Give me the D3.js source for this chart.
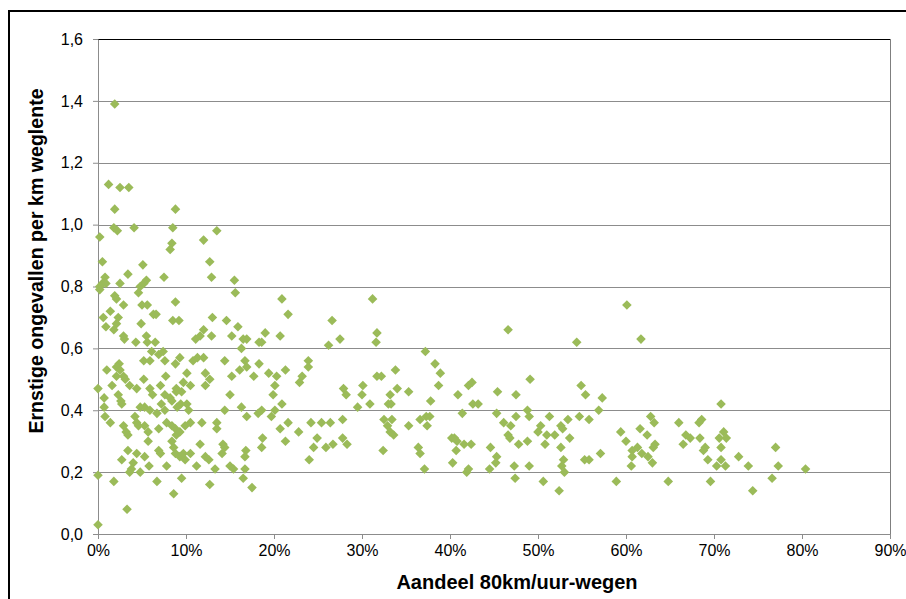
<!DOCTYPE html>
<html>
<head>
<meta charset="utf-8">
<script src="https://cdn.jsdelivr.net/npm/d3@7"></script>
<style>
  body { margin: 0; background: #fff; }
  text { font-family: Arial, "Liberation Sans", sans-serif; }
</style>
</head>
<body>
<div id="chart"></div>
<script>
// Data: share of 80 km/h roads (%) and serious accidents per km
var aandeel = [
  1.9,1.2,2.5,3.5,1.9,8.8,1.8,2.2,4.1,8.5,
  0.2,8.4,8.2,12.0,0.5,5.1,3.4,0.8,7.5,5.5,
  0.5,0.9,0.2,2.5,4.8,5.2,12.7,12.9,15.5,13.5,
  15.6,0.2,1.9,2.1,4.6,2.9,5.0,5.6,8.8,0.6,
  1.4,2.3,2.1,6.3,6.6,4.9,8.5,9.2,0.9,1.8,
  12.0,11.6,11.1,2.9,3.0,4.3,5.5,5.6,6.5,6.1,
  5.2,5.9,6.9,7.4,7.6,9.3,8.8,10.8,11.3,12.0,
  2.4,2.1,2.5,1.0,2.1,2.9,1.6,3.1,3.6,4.4,
  5.2,7.7,10.1,9.7,10.5,5.9,7.1,8.9,9.5,0.0,
  0.7,2.3,2.6,2.7,6.2,7.6,8.2,8.9,8.4,9.4,
  10.1,7.2,0.7,4.8,5.3,5.9,6.7,7.6,9.0,10.3,
  0.8,4.2,1.4,2.9,3.2,3.4,5.3,7.8,8.4,4.4,
  4.6,5.7,6.9,8.8,8.9,9.3,9.9,10.5,11.8,11.6,
  5.7,8.4,8.6,3.4,4.4,5.3,6.9,7.1,2.7,4.0,
  3.8,3.6,4.8,5.8,7.8,8.8,9.3,9.9,9.7,10.5,
  11.2,12.2,0.0,1.8,6.7,9.5,8.6,12.7,3.3,0.0,
  20.9,21.6,26.6,27.5,26.2,23.9,23.9,23.2,22.9,27.9,
  28.2,20.7,19.0,18.6,18.3,16.9,16.5,16.3,15.9,14.6,
  15.2,12.9,13.0,16.7,18.3,16.9,16.1,14.4,15.2,17.7,
  19.4,20.3,21.3,20.1,19.9,20.9,20.1,19.7,18.6,18.2,
  16.3,16.9,14.4,15.0,12.2,12.7,12.2,20.7,21.6,22.8,
  24.2,25.4,26.4,27.8,24.9,24.5,25.9,26.7,27.8,28.3,
  24.0,21.3,18.7,18.6,16.8,16.7,16.7,16.5,17.5,15.0,
  15.4,14.1,14.2,14.4,13.5,13.5,12.6,13.3,
  31.2,31.7,31.6,37.2,38.3,38.9,38.7,33.8,32.2,31.7,
  30.1,30.0,30.9,34.0,35.3,33.2,33.0,33.3,29.5,37.8,
  40.9,42.5,42.1,42.6,43.2,45.4,41.4,32.5,33.4,32.9,
  33.2,33.6,35.3,36.6,37.3,37.7,37.4,32.4,36.4,36.6,
  37.1,40.2,40.5,40.8,41.6,42.4,40.7,40.3,41.9,42.1,
  44.6,45.3,45.2,44.5,45.3,46.1,46.6,46.6,60.1,61.7,
  54.4,49.1,47.5,54.9,55.4,57.3,56.9,54.7,55.8,53.4,
  51.3,48.8,49.0,47.5,46.9,46.8,47.8,48.8,50.0,50.3,
  51.0,51.9,52.6,52.8,53.6,50.8,52.6,47.3,49.0,47.4,
  50.6,52.4,52.9,52.7,53.0,55.3,55.8,57.1,58.9,59.4,
  60.0,61.6,62.4,62.8,63.2,63.3,63.1,61.3,60.7,60.7,
  61.8,62.5,63.0,60.6,64.8,70.8,66.0,68.6,68.3,66.8,
  67.3,66.5,68.4,71.1,71.4,70.6,70.8,69.0,68.8,69.3,
  70.3,70.8,71.3,72.8,73.9,77.0,77.3,80.4,76.6,74.4,69.6
];
var ongevallen = [
  1.39,1.13,1.12,1.12,1.05,1.05,0.99,0.98,0.99,0.99,
  0.96,0.94,0.92,0.95,0.88,0.87,0.84,0.83,0.83,0.82,
  0.81,0.81,0.80,0.81,0.80,0.81,0.88,0.83,0.82,0.98,
  0.78,0.79,0.77,0.76,0.78,0.74,0.74,0.74,0.75,0.70,
  0.72,0.70,0.68,0.71,0.71,0.68,0.69,0.69,0.67,0.66,
  0.66,0.64,0.63,0.64,0.63,0.62,0.64,0.62,0.62,0.59,
  0.56,0.56,0.58,0.59,0.56,0.57,0.55,0.56,0.57,0.57,
  0.55,0.54,0.53,0.53,0.51,0.51,0.48,0.50,0.48,0.47,
  0.50,0.51,0.52,0.49,0.48,0.47,0.48,0.47,0.46,0.47,
  0.44,0.45,0.43,0.42,0.45,0.45,0.44,0.46,0.43,0.42,
  0.42,0.42,0.41,0.41,0.41,0.40,0.39,0.40,0.41,0.40,
  0.38,0.38,0.36,0.35,0.33,0.32,0.35,0.36,0.35,0.36,
  0.35,0.33,0.34,0.34,0.32,0.33,0.35,0.36,0.36,0.29,
  0.30,0.30,0.28,0.27,0.26,0.25,0.27,0.26,0.24,0.23,
  0.21,0.20,0.20,0.22,0.22,0.26,0.25,0.24,0.26,0.26,
  0.22,0.25,0.19,0.17,0.17,0.18,0.13,0.16,0.08,0.03,
  0.76,0.71,0.69,0.63,0.61,0.56,0.54,0.51,0.49,0.47,
  0.45,0.64,0.65,0.62,0.62,0.63,0.63,0.60,0.67,0.69,
  0.64,0.64,0.70,0.56,0.55,0.54,0.53,0.56,0.51,0.51,
  0.52,0.51,0.53,0.48,0.45,0.42,0.40,0.38,0.40,0.39,
  0.41,0.38,0.40,0.45,0.52,0.50,0.48,0.34,0.36,0.33,
  0.36,0.36,0.36,0.37,0.31,0.28,0.28,0.29,0.31,0.29,
  0.24,0.30,0.31,0.28,0.27,0.25,0.21,0.18,0.15,0.22,
  0.21,0.26,0.29,0.28,0.36,0.34,0.24,0.21,
  0.76,0.65,0.62,0.59,0.55,0.52,0.48,0.53,0.51,0.51,
  0.48,0.45,0.42,0.47,0.46,0.45,0.42,0.42,0.41,0.43,
  0.45,0.49,0.48,0.42,0.42,0.46,0.39,0.37,0.37,0.35,
  0.33,0.32,0.35,0.37,0.38,0.38,0.35,0.27,0.28,0.26,
  0.21,0.31,0.31,0.30,0.29,0.29,0.27,0.23,0.20,0.21,
  0.28,0.25,0.23,0.21,0.39,0.36,0.32,0.66,0.74,0.63,
  0.62,0.50,0.45,0.48,0.45,0.44,0.40,0.38,0.37,0.37,
  0.38,0.40,0.38,0.38,0.35,0.31,0.29,0.30,0.33,0.35,
  0.32,0.32,0.35,0.34,0.31,0.29,0.28,0.22,0.22,0.18,
  0.17,0.14,0.24,0.22,0.20,0.24,0.24,0.26,0.17,0.33,
  0.30,0.34,0.32,0.38,0.36,0.29,0.28,0.28,0.27,0.25,
  0.26,0.25,0.23,0.22,0.17,0.42,0.36,0.37,0.36,0.32,
  0.31,0.29,0.31,0.33,0.31,0.31,0.28,0.28,0.27,0.24,
  0.22,0.24,0.22,0.25,0.22,0.28,0.22,0.21,0.18,0.14,0.17
];
var xTicks = [0, 10, 20, 30, 40, 50, 60, 70, 80, 90];
var yTicks = [0, 0.2, 0.4, 0.6, 0.8, 1.0, 1.2, 1.4, 1.6];
var xTitle = "Aandeel 80km/uur-wegen";
var yTitle = "Ernstige ongevallen per km weglente";

var svgWidth = 906;
var svgHeight = 599;
var margin = { top: 39, right: 16, bottom: 65, left: 98 };
var width = svgWidth - margin.left - margin.right;
var height = svgHeight - margin.top - margin.bottom;

var svg = d3.select("#chart")
  .append("svg")
  .attr("width", svgWidth)
  .attr("height", svgHeight);

svg.append("rect")
  .attr("width", svgWidth).attr("height", svgHeight)
  .attr("fill", "#fff");

// outer chart frame (runs off the right/bottom of the picture)
svg.append("rect")
  .attr("x", 9).attr("y", 11)
  .attr("width", 1000).attr("height", 1000)
  .attr("fill", "none")
  .attr("stroke", "#000")
  .attr("stroke-width", 2);

var chartGroup = svg.append("g")
  .attr("transform", `translate(${margin.left}, ${margin.top})`);

var xScale = d3.scaleLinear().domain([0, 90]).range([0, width]);
var yScale = d3.scaleLinear().domain([0, 1.6]).range([height, 0]);

var gridColor = "#8c8c8c";

// gridlines
chartGroup.append("g")
  .selectAll("line")
  .data(yTicks.filter(d => d > 0 && d < 1.6))
  .enter().append("line")
  .attr("x1", 0).attr("x2", width)
  .attr("y1", d => Math.round(yScale(d)) + 0.5)
  .attr("y2", d => Math.round(yScale(d)) + 0.5)
  .attr("stroke", gridColor);

// plot area top + right border
chartGroup.append("line")
  .attr("x1", 0).attr("x2", width)
  .attr("y1", 0.5).attr("y2", 0.5)
  .attr("stroke", "#000");
chartGroup.append("line")
  .attr("x1", width + 0.5).attr("x2", width + 0.5)
  .attr("y1", 0).attr("y2", height)
  .attr("stroke", "#7f7f7f");

var fmtY = d => d3.format(".1f")(d).replace(".", ",");

var bottomAxis = d3.axisBottom(xScale)
  .tickValues(xTicks)
  .tickFormat(d => d + "%")
  .tickSize(5)
  .tickSizeOuter(0)
  .tickPadding(6);
var leftAxis = d3.axisLeft(yScale)
  .tickValues(yTicks)
  .tickFormat(fmtY)
  .tickSize(5)
  .tickSizeOuter(0)
  .tickPadding(10);

var gx = chartGroup.append("g")
  .attr("transform", `translate(0, ${height})`)
  .call(bottomAxis);
var gy = chartGroup.append("g")
  .call(leftAxis);

[gx, gy].forEach(function(g) {
  g.selectAll("path, line").attr("stroke", gridColor);
  g.selectAll("text")
    .attr("fill", "#000")
    .style("font-size", "16px");
});

// points
var diamond = d3.symbol().type(d3.symbolSquare).size(46);
chartGroup.append("g")
  .selectAll("path")
  .data(aandeel.map((x, i) => [x, ongevallen[i]]))
  .enter().append("path")
  .attr("d", diamond)
  .attr("transform", d => `translate(${xScale(d[0])}, ${yScale(d[1])}) rotate(45)`)
  .attr("fill", "#9bbb59");

// axis titles
svg.append("text")
  .attr("x", 517)
  .attr("y", 589)
  .attr("text-anchor", "middle")
  .style("font-size", "20px")
  .style("font-weight", "bold")
  .text(xTitle);

svg.append("text")
  .attr("transform", "translate(43, 261) rotate(-90)")
  .attr("text-anchor", "middle")
  .style("font-size", "19.6px")
  .style("font-weight", "bold")
  .text(yTitle);
</script>
</body>
</html>
